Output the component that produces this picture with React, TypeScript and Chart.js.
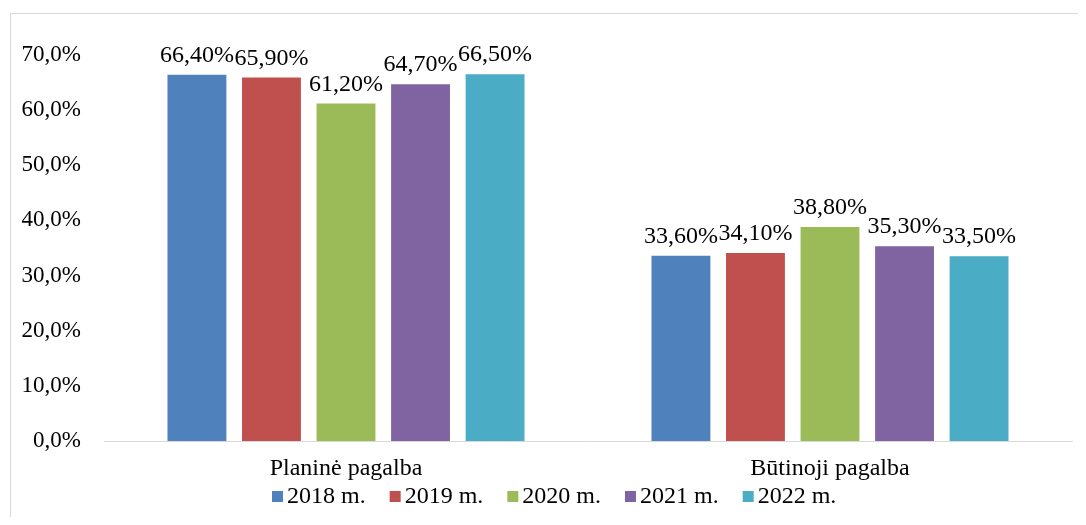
import React, { useEffect, useRef } from 'react';
import { Chart, registerables } from 'chart.js';

Chart.register(...registerables);

// ---- data ----
const categories = ['Planinė pagalba', 'Būtinoji pagalba'];
const seriesLabels = ['2018 m.', '2019 m.', '2020 m.', '2021 m.', '2022 m.'];
const values2018 = [66.4, 33.6];
const values2019 = [65.9, 34.1];
const values2020 = [61.2, 38.8];
const values2021 = [64.7, 35.3];
const values2022 = [66.5, 33.5];
const seriesColors = ['#4F81BD', '#C0504D', '#9BBB59', '#8064A2', '#4BACC6'];
const yMin = 0;
const yMax = 70;
const yStep = 10;

const FONT = '"Liberation Serif", "Times New Roman", Times, serif';
const TICK_SIZE = 23;
const TEXT_SIZE = 24;

const fmtTick = (v: number) => v.toFixed(1).replace('.', ',') + '%';
const fmtLabel = (v: number) => v.toFixed(2).replace('.', ',') + '%';

const dataLabelPlugin = {
  id: 'dataLabels',
  afterDatasetsDraw(chart: any) {
    const ctx = chart.ctx;
    ctx.save();
    ctx.font = `${TEXT_SIZE}px ${FONT}`;
    ctx.fillStyle = '#000';
    ctx.textAlign = 'center';
    ctx.textBaseline = 'alphabetic';
    chart.data.datasets.forEach((ds: any, i: number) => {
      const meta = chart.getDatasetMeta(i);
      meta.data.forEach((el: any, j: number) => {
        ctx.fillText(fmtLabel(ds.data[j]), el.x, el.y - 13);
      });
    });
    ctx.restore();
  },
};

const legendPlugin = {
  id: 'customLegend',
  afterDraw(chart: any) {
    const ctx = chart.ctx;
    const area = chart.chartArea;
    ctx.save();
    ctx.font = `${TEXT_SIZE}px ${FONT}`;
    ctx.textAlign = 'left';
    ctx.textBaseline = 'alphabetic';
    let x = 261;
    const boxY = area.bottom + 50;
    const baseY = area.bottom + 62;
    chart.data.datasets.forEach((ds: any) => {
      ctx.fillStyle = ds.backgroundColor;
      ctx.fillRect(x, boxY, 11, 11);
      ctx.fillStyle = '#000';
      ctx.fillText(ds.label, x + 15, baseY);
      x += 15 + ctx.measureText(ds.label).width + 24;
    });
    ctx.restore();
  },
};

export default function App() {
  const ref = useRef<HTMLCanvasElement | null>(null);

  useEffect(() => {
    if (!ref.current) return;
    const seriesValues = [values2018, values2019, values2020, values2021, values2022];
    const chart = new Chart(ref.current, {
      type: 'bar',
      data: {
        labels: categories,
        datasets: seriesLabels.map((label, i) => ({
          label,
          data: seriesValues[i],
          backgroundColor: seriesColors[i],
          borderWidth: 0,
          categoryPercentage: 0.77,
          barPercentage: 0.79,
        })),
      },
      options: {
        responsive: false,
        animation: false,
        layout: { padding: { top: 41, right: 13, left: 0, bottom: 0 } },
        plugins: {
          legend: { display: false },
          tooltip: { enabled: false },
          title: { display: false },
        },
        scales: {
          x: {
            grid: { display: false, drawTicks: false },
            border: { display: true, color: '#d9d9d9', width: 1 },
            ticks: {
              color: '#000',
              font: { family: FONT, size: TEXT_SIZE },
              padding: 13,
              maxRotation: 0,
              autoSkip: false,
            },
            afterFit(scale: any) {
              scale.height = 83;
            },
          },
          y: {
            min: yMin,
            max: yMax,
            grid: { display: false, drawTicks: false },
            border: { display: false },
            ticks: {
              stepSize: yStep,
              color: '#000',
              font: { family: FONT, size: TICK_SIZE },
              padding: 23,
              callback: (v: any) => fmtTick(Number(v)),
            },
            afterFit(scale: any) {
              scale.width = 93;
            },
          },
        },
      },
      plugins: [dataLabelPlugin, legendPlugin],
    });
    return () => chart.destroy();
  }, []);

  return (
    <div style={{ position: 'relative', height: 509 }}>
      <div
        style={{
          position: 'absolute',
          left: 2,
          top: 5,
          borderLeft: '1px solid #d9d9d9',
          borderTop: '1px solid #d9d9d9',
          width: 1074,
          height: 510,
        }}
      >
        <canvas ref={ref} width={1074} height={510} style={{ display: 'block' }} />
      </div>
    </div>
  );
}
